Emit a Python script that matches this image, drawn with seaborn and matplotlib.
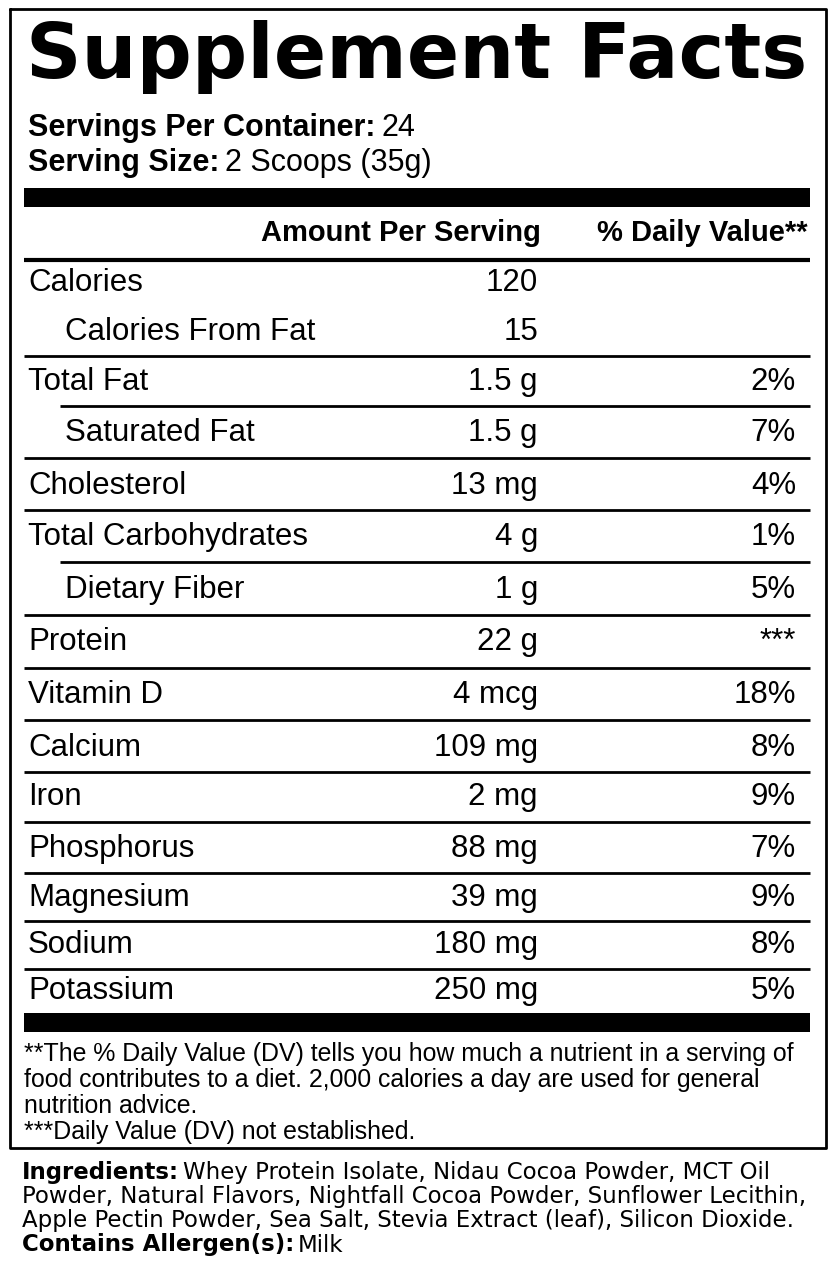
import matplotlib
matplotlib.use("Agg")
import matplotlib.pyplot as plt
import seaborn as sns

sns.set_style("white")
plt.rcParams['font.family'] = ['Liberation Sans', 'DejaVu Sans']
plt.rcParams['text.color'] = 'black'

# Data from the label
servings_per_container = "24"
serving_size = "2 Scoops (35g)"
nutrients = ["Calories", "Calories From Fat", "Total Fat", "Saturated Fat", "Cholesterol",
             "Total Carbohydrates", "Dietary Fiber", "Protein", "Vitamin D", "Calcium",
             "Iron", "Phosphorus", "Magnesium", "Sodium", "Potassium"]
amounts = ["120", "15", "1.5 g", "1.5 g", "13 mg", "4 g", "1 g", "22 g", "4 mcg",
           "109 mg", "2 mg", "88 mg", "39 mg", "180 mg", "250 mg"]
daily_values = ["", "", "2%", "7%", "4%", "1%", "5%", "***", "18%", "8%", "9%", "7%",
                "9%", "8%", "5%"]
indented = [False, True, False, True, False, False, True, False, False, False, False,
            False, False, False, False]
row_y = [283, 332, 382, 433, 486, 537, 590, 642, 695, 748, 797, 849, 898, 945, 991]
line_y = [None, 356, 406, 458, 510, 562, 615, 668, 720, 772, 822, 873, 921, 969, None]
footnotes = ["**The % Daily Value (DV) tells you how much a nutrient in a serving of",
             "food contributes to a diet. 2,000 calories a day are used for general",
             "nutrition advice.",
             "***Daily Value (DV) not established."]
ingredients = ["Whey Protein Isolate, Nidau Cocoa Powder, MCT Oil",
               "Powder, Natural Flavors, Nightfall Cocoa Powder, Sunflower Lecithin,",
               "Apple Pectin Powder, Sea Salt, Stevia Extract (leaf), Silicon Dioxide."]
allergens = "Milk"

W, H = 837, 1276
fig = plt.figure(figsize=(W / 100, H / 100), dpi=100)
ax = fig.add_axes([0, 0, 1, 1])
ax.set_xlim(0, W)
ax.set_ylim(H, 0)
ax.axis("off")

# border
ax.plot([10, 826, 826, 10, 10], [9, 9, 1148, 1148, 9], color="black", lw=2)

fig.canvas.draw()
r = fig.canvas.get_renderer()

def fit(t, target):
    s = t.get_fontsize()
    t.set_fontsize(s * target / t.get_window_extent(r).width)
    return t.get_fontsize()

title = ax.text(26, 57, "Supplement Facts", fontsize=60, fontweight="heavy",
                va="center", ha="left", family="DejaVu Sans")
fit(title, 782)

def bold_then(x, y, bold, rest, size, family=None, gap=4):
    kw = {"family": family} if family else {}
    t = ax.text(x, y, bold, fontsize=size, fontweight="bold", va="center", **kw)
    bb = t.get_window_extent(r)
    ax.text(x + bb.width + gap, y, rest, fontsize=size, va="center", **kw)

bold_then(28, 128, "Servings Per Container:", servings_per_container, 22, gap=6)
bold_then(28, 163, "Serving Size:", serving_size, 22, gap=6)

ax.fill_between([24, 810], 188, 207, color="black", lw=0)
ax.text(541, 233, "Amount Per Serving", fontsize=21, fontweight="bold", ha="right", va="center")
ax.text(808, 233, "% Daily Value**", fontsize=21, fontweight="bold", ha="right", va="center")
ax.hlines(260, 24, 810, color="black", lw=3)

for i, name in enumerate(nutrients):
    x = 65 if indented[i] else 28
    ax.text(x, row_y[i], name, fontsize=22.5, va="center")
    ax.text(538, row_y[i], amounts[i], fontsize=22.5, va="center", ha="right")
    if daily_values[i]:
        ax.text(796, row_y[i], daily_values[i], fontsize=22.5, va="center", ha="right")
    if line_y[i] is not None:
        nxt = indented[i + 1] if i + 1 < len(indented) else False
        ax.hlines(line_y[i], 60 if nxt else 24, 810, color="black", lw=2)

ax.fill_between([24, 810], 1013, 1032, color="black", lw=0)

fn = ax.text(24, 1054, footnotes[0], fontsize=15, va="center")
fsize = fit(fn, 776)
for k, line in enumerate(footnotes[1:], start=1):
    ax.text(24, 1054 + k * 26, line, fontsize=fsize, va="center")

probe = ax.text(22, 1196, ingredients[1], fontsize=14, va="center", family="DejaVu Sans")
isize = fit(probe, 786)
ax.text(22, 1221, ingredients[2], fontsize=isize, va="center", family="DejaVu Sans")
bold_then(22, 1172, "Ingredients:", ingredients[0], isize, "DejaVu Sans")
bold_then(22, 1245, "Contains Allergen(s):", allergens, isize, "DejaVu Sans")

fig.savefig("out.png", dpi=100)
